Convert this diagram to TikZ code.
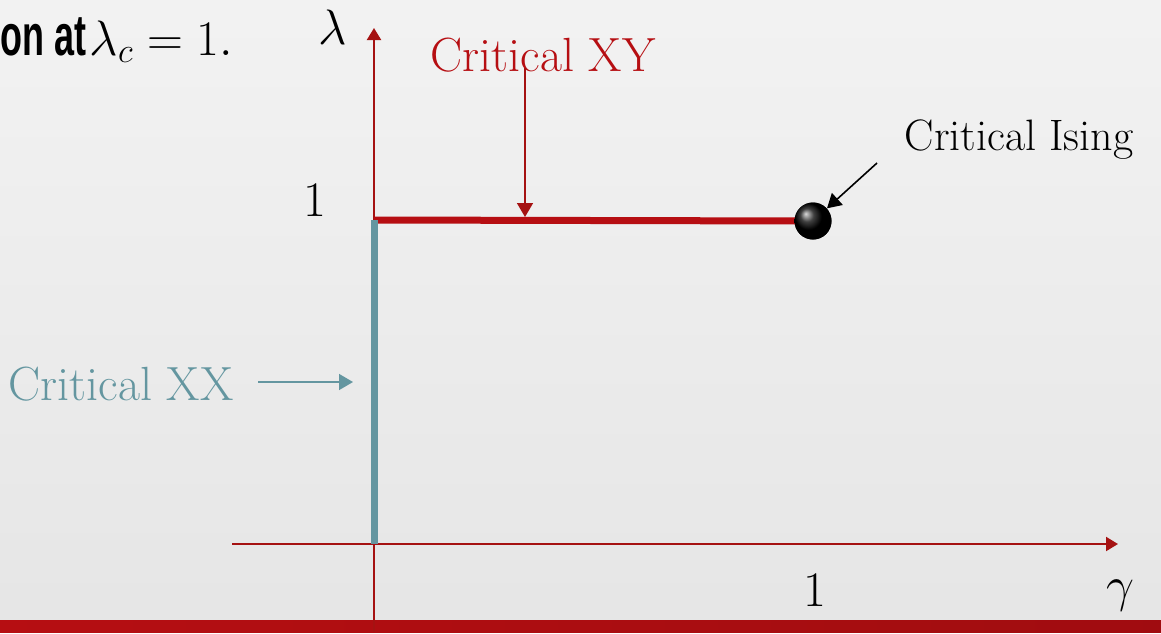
\documentclass[tikz,border=0pt]{standalone}
\usepackage{amsmath}
\usepackage{fontspec}
\newfontfamily\headfont{Liberation Sans}
\usepackage{tikz}
\usetikzlibrary{arrows.meta, positioning}

\definecolor{axisred}{RGB}{165,18,18}
\definecolor{barred}{RGB}{182,14,18}
\definecolor{xxteal}{RGB}{100,150,160}

\begin{document}
\begin{tikzpicture}[
  x=0.5pt, y=-0.5pt,
  lbl/.style={inner sep=0pt, font=\fontsize{24}{28}\selectfont},
  smalllbl/.style={inner sep=0pt, font=\fontsize{22}{26}\selectfont},
  axis/.style={-{Triangle[length=6pt, width=7pt]}, axisred, line width=1pt},
  pointer/.style={-{Triangle[length=7pt, width=8pt]}, line width=0.8pt},
  phase/.style={line width=3.5pt}
]

% background and bottom bar
\shade[top color=black!5, bottom color=black!10] (0,0) rectangle (1161,632);
\shade[left color=barred, right color=barred!88!black] (0,620) rectangle (1161,632);

% axes
\coordinate (origin) at (374,544);
\coordinate (xend) at (1118,544);
\coordinate (yend) at (374,28);
\draw[axis] (232,544) -- (xend);
\draw[axis] (374,632) -- (yend);

\node[lbl] (lam) at (333,27) {$\lambda$};
\node[lbl] (gam) at (1120,596) {$\gamma$};
\node[lbl] (yone) at (315,200) {$1$};
\node[lbl] (xone) at (815,590) {$1$};

% title fragment
\node[inner sep=0pt, anchor=base west] (title) at (0,55)
  {\scalebox{0.62}[1]{\headfont\bfseries\fontsize{29}{32}\selectfont on at}\,%
   \fontsize{24}{28}\selectfont$\lambda_c = 1.$};

% critical lines
\coordinate (xyleft) at (374,220);
\coordinate (xxtop) at (374,220);
\node[circle, inner sep=0pt, minimum size=18.5pt, ball color=black] (ball) at (813,221) {};
\draw[phase, barred] (xyleft) -- (ball.center);
\shade[ball color=black] (ball.center) circle (9.25pt);
\draw[phase, xxteal] (xxtop) -- (origin);

% labels and pointers
\node[lbl, text=barred] (xy) at (543,55) {Critical XY};
\coordinate (xytail) at (525,68);
\coordinate (xytip) at (525,217);
\draw[pointer, draw=axisred, fill=axisred] (xytail) -- (xytip);

\node[smalllbl] (ising) at (1019,140) {Critical Ising};
\coordinate (isingtail) at (877,163);
\draw[pointer, black] (isingtail) -- (ball);

\node[lbl, text=xxteal] (xx) at (121,384) {Critical XX};
\coordinate (xxtail) at (258,382);
\coordinate (xxtip) at (353,382);
\draw[pointer, xxteal] (xxtail) -- (xxtip);

\end{tikzpicture}
\end{document}
